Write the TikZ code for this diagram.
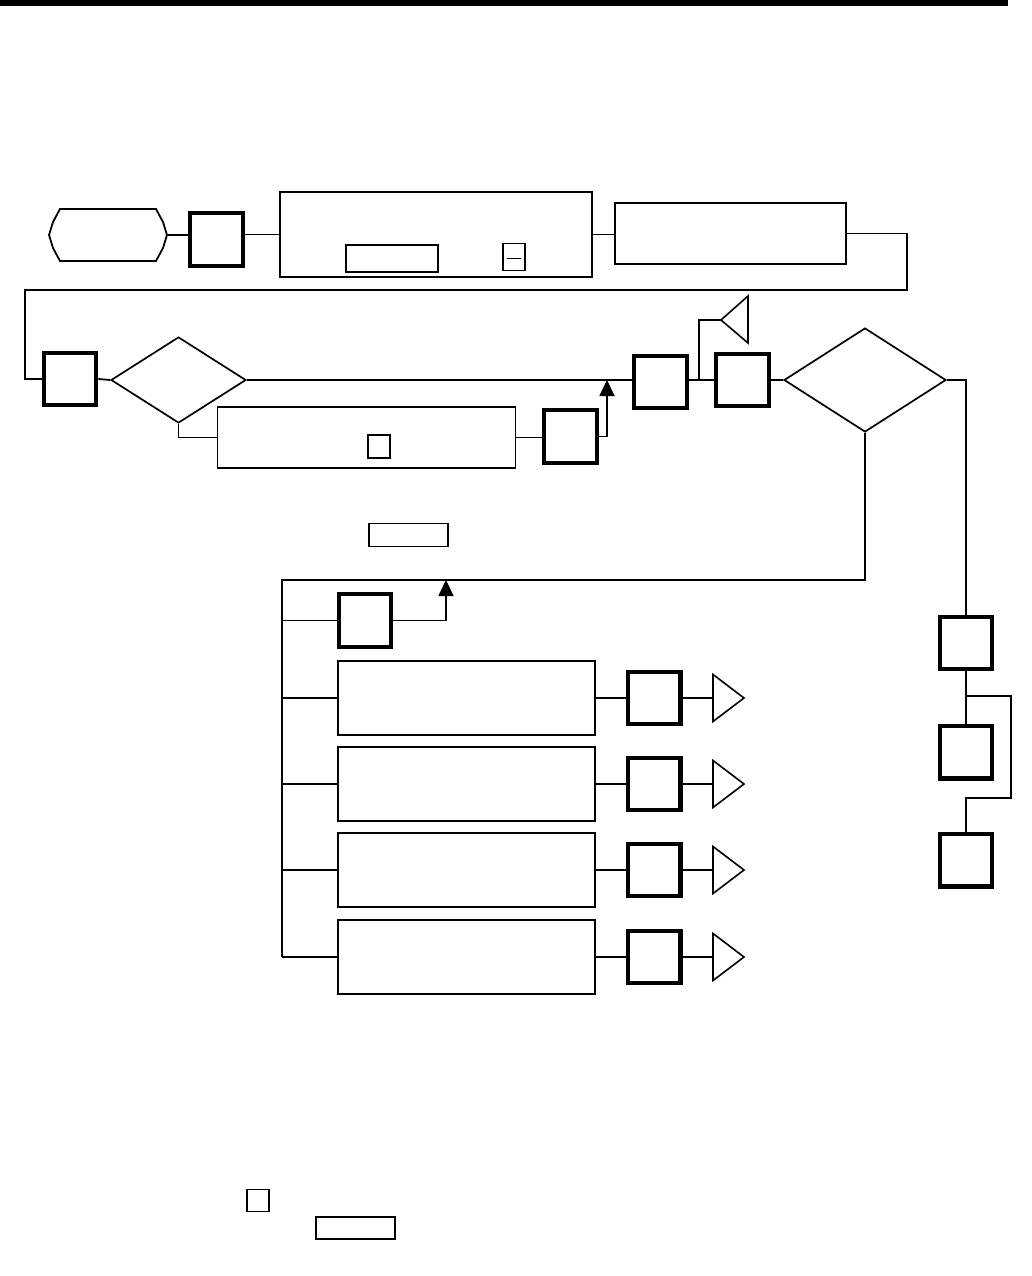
\documentclass[tikz,border=0pt]{standalone}
\usetikzlibrary{shapes.geometric,arrows.meta}
\begin{document}
\begin{tikzpicture}[x=1pt,y=-1pt,
  ln/.style={line width=1.8pt},
  tbox/.style={draw,line width=4.2pt,inner sep=0pt,minimum width=52.5pt,minimum height=52.5pt},
  pbox/.style={draw,line width=1.9pt,inner sep=0pt},
  dec/.style={draw,diamond,line width=1.7pt,inner sep=0pt},
  arr/.style={ln,-{Triangle[length=16pt,width=15pt]}},
  tri/.style={line width=1.6pt,line join=miter},
]
\useasboundingbox (0,0) rectangle (1031,1276);
% top rule
\fill (0,0) rectangle (1008,6);

% ---------- row 1 ----------
\node (term) [inner sep=0pt,minimum width=119pt,minimum height=52pt] at (108,235) {};
\draw[ln] (60,209) -- (156,209) -- (163,222) -- (167,235) -- (163,248) -- (156,261)
  -- (60,261) -- (53,248) -- (49,235) -- (53,222) -- cycle;
\node (sq1) [tbox] at (216.5,239.5) {};
\node (rA) [pbox,minimum width=312pt,minimum height=85pt] at (436,234.5) {};
\node (rAin) [pbox,minimum width=92pt,minimum height=27pt] at (392,258.5) {};
\node (rAsq) [pbox,minimum width=22pt,minimum height=27pt] at (514,257) {};
\draw[ln] (507,258.5) -- (521,258.5);
\node (rB) [pbox,minimum width=231pt,minimum height=61pt] at (730.5,233.5) {};

\draw[ln] (term.east) -- (term.east -| sq1.west);
\draw[ln] (sq1.east |- rA.west) -- (rA.west);
\draw[ln] (rA.east) -- (rA.east -| rB.west);
\coordinate (c1) at (907,290);
\coordinate (c2) at (25,290);
\node (sq2) [tbox] at (70,379) {};
\draw[ln] (rB.east) -| (c1) -- (c2) |- (sq2.west);

% ---------- row 2 ----------
\node (d1) [dec,minimum width=135pt,minimum height=86pt] at (178.5,380) {};
\node (sq3) [tbox] at (660.5,382) {};
\node (rC) [pbox,minimum width=298pt,minimum height=61pt] at (366.5,437.5) {};
\node (rCsq) [pbox,minimum width=22pt,minimum height=23pt] at (379,446.5) {};
\node (sq4) [tbox] at (570.5,436.5) {};
\node (sq5) [tbox] at (742.5,380) {};
\node (d2) [dec,minimum width=162pt,minimum height=104pt] at (865,380) {};

\draw[ln] (sq2.east) -- (d1.west);
\draw[ln] (d1.east) -- (d1.east -| sq3.west);
\draw[ln] (d1.south) |- (rC.west);
\draw[ln] (rC.east) -- (rC.east -| sq4.west);
\coordinate (j1) at (607,380);
\draw[arr] (sq4.east) -| (j1);
\draw[ln] (sq3.east |- sq5.west) -- (sq5.west);
\draw[ln] (sq5.east) -- (d2.west);

% left-pointing off-page marker
\coordinate (tA) at (721,320);
\draw[tri] (tA) -- (748,296) -- (748,343) -- cycle;
\coordinate (j2) at (699,380);
\draw[ln] (j2) |- (tA);

% ---------- lower left block ----------
\node (rD) [pbox,minimum width=79pt,minimum height=23pt] at (408.5,535) {};
\coordinate (busTop) at (282,580);
\coordinate (busBot) at (282,957);
\draw[ln] (d2.south) |- (busTop) -- (busBot);
\node (sq6) [tbox] at (365,620.5) {};
\draw[ln] (busTop |- sq6.west) -- (sq6.west);
\coordinate (j3) at (446,580);
\draw[arr] (sq6.east) -| (j3);

\foreach \i/\y in {1/698,2/784,3/870,4/957}{
  \node (e\i) [pbox,minimum width=257pt,minimum height=74pt] at (466.3,\y) {};
  \node (f\i) [tbox] at (654.3,\y) {};
  \coordinate (t\i) at (713,\y);
  \draw[tri] (t\i) -- (713,\y-23.5) -- (744,\y) -- (713,\y+23.5) -- cycle;
  \draw[ln] (busTop |- e\i.west) -- (e\i.west);
  \draw[ln] (e\i.east) -- (f\i.west);
  \draw[ln] (f\i.east) -- (t\i);
}

% ---------- right column ----------
\node (r1) [tbox] at (966,643) {};
\node (r2) [tbox] at (966,752.3) {};
\node (r3) [tbox] at (966,860.3) {};
\draw[ln] (d2.east) -| (r1.north);
\draw[ln] (r1.south) -- (r2.north);
\coordinate (b1) at (966,696);
\coordinate (b2) at (1011,798);
\draw[ln] (b1) -| (b2) -| (r3.north);

% ---------- bottom small boxes ----------
\node (g1) [pbox,minimum width=22pt,minimum height=22pt] at (258,1200.5) {};
\node (g2) [pbox,minimum width=79pt,minimum height=22pt] at (355.5,1228) {};
\end{tikzpicture}
\end{document}
